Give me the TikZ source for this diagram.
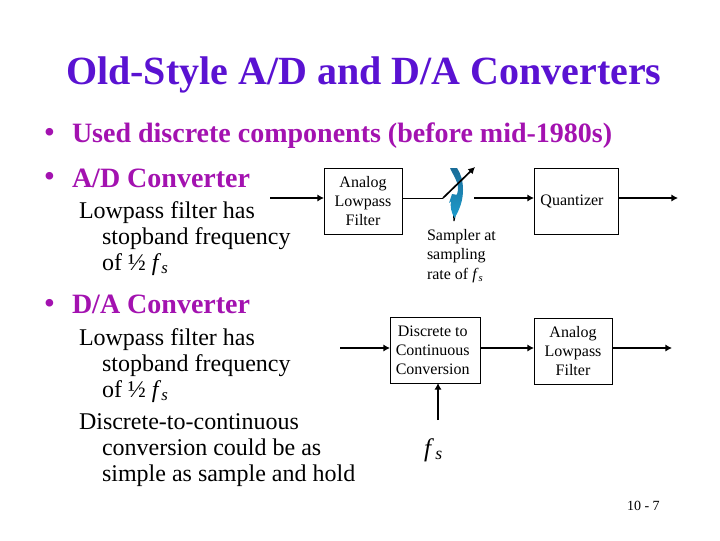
\documentclass[tikz,border=0pt]{standalone}
\usepackage{fontspec}
\setmainfont{Liberation Serif}
\usetikzlibrary{arrows.meta}
\definecolor{titlec}{HTML}{5A12D2}
\definecolor{bulc}{HTML}{A312B0}
\definecolor{swirltop}{HTML}{1A6C98}
\definecolor{swirlbot}{HTML}{1E9CCC}
\newcommand{\fsub}{\textit{f}\textsubscript{\textit{s}}}
\newcommand{\lsh}{\hspace{3.5pt}\mbox{}}
\tikzset{
  txt/.style={anchor=base west,inner sep=0pt,outer sep=0pt},
  ttl/.style={txt,font=\fontsize{30}{32}\selectfont\bfseries,text=titlec},
  bul/.style={txt,font=\fontsize{21}{24}\selectfont\bfseries,text=bulc},
  body/.style={txt,font=\fontsize{18}{20}\selectfont},
  blk/.style={draw,line width=0.75pt,align=center,inner sep=0pt,font=\fontsize{12}{14.25}\selectfont},
  small/.style={txt,font=\fontsize{12}{14.25}\selectfont},
  pgn/.style={txt,font=\fontsize{10.5}{14.25}\selectfont},
  sig/.style={line width=1.5pt,-{Latex[length=5pt,width=5.5pt]}},
}
\begin{document}
\begin{tikzpicture}[x=0.75pt,y=-0.75pt]
\useasboundingbox (0,0) rectangle (720,540);
\node[ttl] (title) at (66,84.5) {Old-Style A/D and D/A Converters};
\node[bul] (b1d) at (44.5,141.5) {•};
\node[bul] (b1) at (72,142) {Used discrete components (before mid-1980s)};
\node[bul] (b2d) at (44.5,185) {•};
\node[bul] (b2) at (72,187) {A/D Converter};
\node[body] (l1) at (79,218) {Lowpass filter has};
\node[body] (l2) at (102,244) {stopband frequency};
\node[body] (l3) at (102,270) {of ½ \fsub};
\node[bul] (b3d) at (44.5,312) {•};
\node[bul] (b3) at (72,313.5) {D/A Converter};
\node[body] (m1) at (79,345) {Lowpass filter has};
\node[body] (m2) at (102,371) {stopband frequency};
\node[body] (m3) at (102,397) {of ½ \fsub};
\node[body] (m4) at (79,429) {Discrete-to-continuous};
\node[body] (m5) at (102,455) {conversion could be as};
\node[body] (m6) at (102,481) {simple as sample and hold};

\node[blk,minimum width=58.5pt,minimum height=49.5pt] (af) at (363,201) {Analog\\Lowpass\\Filter};
\node[blk,minimum width=63pt,minimum height=49.5pt] (qz) at (576,201) {Quantizer\hspace{6pt}};
\node[blk,minimum width=67.5pt,minimum height=49pt] (dc) at (435,350.5) {Discrete to\lsh\\Continuous\lsh\\Conversion\lsh};
\node[blk,minimum width=58.5pt,minimum height=49.5pt] (af2) at (573,351) {Analog\\Lowpass\\Filter};

\coordinate (in1) at (270,198);
\coordinate (pivot) at (443,198);
\coordinate (tip) at (475,167);
\coordinate (contact) at (474,198);
\coordinate (qin) at (534,198);
\coordinate (afo) at (402.5,198);
\coordinate (afi) at (324,198);
\coordinate (qo) at (618,198);
\coordinate (out1) at (678,198);
\coordinate (in2) at (340,348);
\coordinate (dci) at (390,348);
\coordinate (dco) at (480,348);
\coordinate (a2i) at (534,348);
\coordinate (a2o) at (612,348);
\coordinate (out2) at (672,348);
\coordinate (fsb) at (438,420);
\coordinate (fst) at (438,383);

\fill[fill=black] (453,213) -- (453.4,221) -- (454.6,221) -- (456,213) -- cycle;
\shade[top color=swirltop,bottom color=swirlbot]
  (450,168) -- (457,168) .. controls (461,174) and (463,181) .. (463,190)
  .. controls (463,200) and (460,209) .. (454.5,218)
  .. controls (451,212) and (450,206) .. (451,201)
  -- (449,203) -- (452,194) -- (458,195) -- (455.5,197.5)
  .. controls (457,195) and (458,192) .. (458,188)
  .. controls (457.5,180) and (453,175) .. (450,168) -- cycle;

\draw[line width=0.75pt] (afo) -- (pivot);
\draw[line width=1.25pt,-{Latex[length=5pt,width=5.5pt]}] (pivot) -- (tip);
\draw[sig] (in1) -- (afi);
\draw[sig] (contact) -- (qin);
\draw[sig] (qo) -- (out1);
\draw[sig] (in2) -- (dci);
\draw[sig] (dco) -- (a2i);
\draw[sig] (a2o) -- (out2);
\draw[sig] (fsb) -- (fst);

\node[small] (smp1) at (427,240) {Sampler at};
\node[small] (smp2) at (427,259) {sampling};
\node[small] (smp3) at (427,279) {rate of \fsub};
\node[txt,font=\fontsize{19}{20}\selectfont\itshape] (fslab) at (424,456) {f\,\textsubscript{s}};
\node[pgn] (pg) at (627,510) {10 - 7};
\end{tikzpicture}
\end{document}
